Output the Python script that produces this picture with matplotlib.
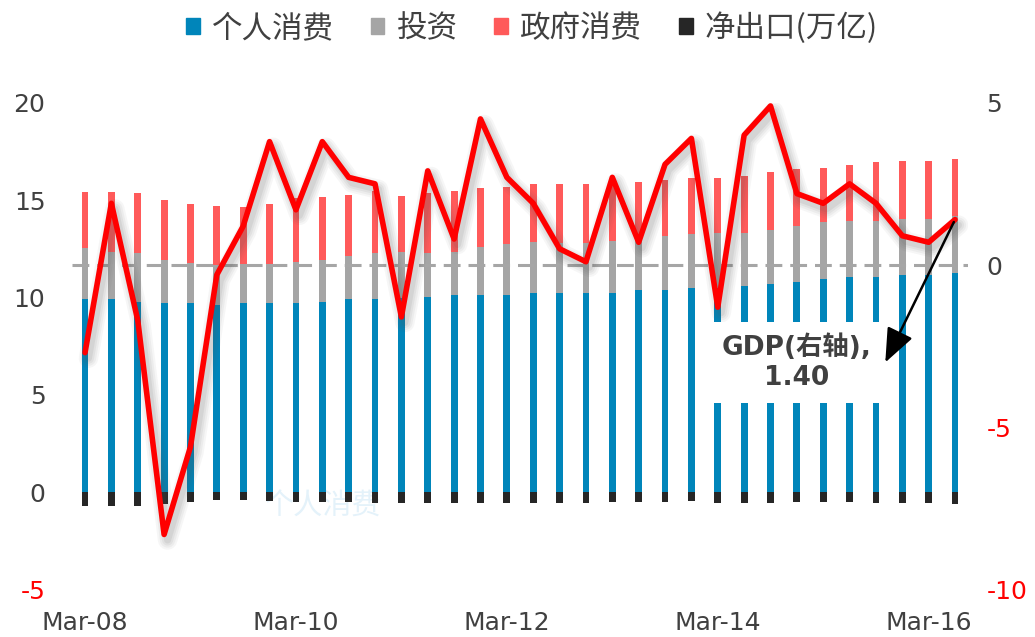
import numpy as np
import matplotlib
matplotlib.use('Agg')
import matplotlib.pyplot as plt
import matplotlib.patheffects as pe
from matplotlib.patches import Patch

plt.rcParams['font.family'] = ['DejaVu Sans', 'Noto Sans CJK SC']

# quarterly data, Mar-08 .. Jun-16 (trillion USD, GDP growth % on right axis)
quarters = [f'{m}-{y:02d}' for y in range(8, 17) for m in ['Mar', 'Jun', 'Sep', 'Dec']][:34]

personal = [9.91, 9.91, 9.78, 9.70, 9.70, 9.61, 9.70, 9.70, 9.70, 9.78,
            9.91, 9.91, 9.95, 10.04, 10.13, 10.13, 10.13, 10.25, 10.25, 10.25,
            10.25, 10.38, 10.38, 10.47, 10.50, 10.59, 10.71, 10.81, 10.93, 11.04,
            11.04, 11.15, 11.15, 11.24]
invest = [2.62, 2.44, 2.49, 2.22, 2.09, 2.06, 2.02, 2.02, 2.11, 2.14,
          2.24, 2.36, 2.37, 2.23, 2.22, 2.45, 2.62, 2.61, 2.56, 2.56,
          2.65, 2.57, 2.80, 2.79, 2.80, 2.73, 2.77, 2.88, 2.94, 2.88,
          2.90, 2.87, 2.87, 2.93]
gov = [2.90, 3.08, 3.08, 3.08, 3.01, 3.03, 2.94, 3.08, 3.28, 3.25,
       3.09, 3.20, 2.91, 3.11, 3.12, 3.02, 2.94, 2.95, 3.00, 3.00,
       2.96, 2.96, 2.84, 2.86, 2.82, 2.90, 2.96, 2.88, 2.80, 2.90,
       2.99, 3.01, 3.01, 2.94]
net_exp = [-0.70, -0.70, -0.70, -0.60, -0.50, -0.40, -0.40, -0.45, -0.50, -0.50,
           -0.50, -0.55, -0.55, -0.55, -0.55, -0.55, -0.55, -0.55, -0.55, -0.55,
           -0.50, -0.50, -0.50, -0.45, -0.55, -0.55, -0.55, -0.50, -0.50, -0.50,
           -0.55, -0.55, -0.55, -0.60]
gdp = [-2.7, 1.9, -1.7, -8.3, -5.6, -0.3, 1.2, 3.8, 1.7, 3.8,
       2.7, 2.5, -1.6, 2.9, 0.8, 4.5, 2.7, 1.9, 0.5, 0.1,
       2.7, 0.7, 3.1, 3.9, -1.3, 4.0, 4.9, 2.2, 1.9, 2.5,
       1.9, 0.9, 0.7, 1.4]

left_ticks = [-5, 0, 5, 10, 15, 20]
right_ticks = [-10, -5, 0, 5]

names = ['个人消费', '投资', '政府消费', '净出口(万亿)']
colors = ['#0085BA', '#A5A5A5', '#FF5A5A', '#262626']

x = np.arange(len(quarters))
personal = np.array(personal)
invest = np.array(invest)
gov = np.array(gov)

fig = plt.figure(figsize=(10.35, 6.37), dpi=100)
ax = fig.add_axes([0.0694, 0.0743, 0.8661, 0.7645])
ax2 = ax.twinx()

w = 0.26
ax.bar(x, personal, w, color=colors[0], zorder=2)
ax.bar(x, invest, w, bottom=personal, color=colors[1], zorder=2)
ax.bar(x, gov, w, bottom=personal + invest, color=colors[2], zorder=2)
ax.bar(x, net_exp, w, color=colors[3], zorder=2)

# faint watermark label
ax.text(9.0, -0.75, '个人消费', color='#E4F2FA', fontsize=21, ha='center', va='center',
        family=['Noto Sans CJK SC'], zorder=1)

ax.set_xlim(-0.5, len(x) - 0.5)
ax.set_ylim(-5, 20)
ax2.set_ylim(-10, 5)

zero = ax2.axhline(0, color='#A6A6A6', lw=2.2, zorder=1)
zero.set_dashes((5.5, 2.6))

shadow = [pe.SimpleLineShadow(offset=(2.5, -4), shadow_color='#555555', alpha=a, linewidth=lw,
                              joinstyle='round', capstyle='round')
          for a, lw in [(0.05, 14), (0.06, 11), (0.07, 8), (0.09, 5)]]
ax2.plot(x, gdp, color='#FF0000', lw=4, zorder=3, solid_joinstyle='round',
         solid_capstyle='round', path_effects=shadow + [pe.Normal()])

ax2.annotate(f'GDP(右轴),\n{gdp[-1]:.2f}', xy=(x[-1], gdp[-1]), xytext=(27.0, -3.0),
             ha='center', va='center', fontsize=19, fontweight='bold', color='#404040',
             family=['DejaVu Sans', 'Noto Sans CJK SC'], linespacing=1.2,
             bbox=dict(boxstyle='square,pad=0.45', fc='white', ec='none'),
             arrowprops=dict(arrowstyle='<|-,head_length=1.1,head_width=0.45', color='black',
                             lw=1.8, relpos=(1.09, 0.5), patchA=None, shrinkA=0, shrinkB=2),
             zorder=4)

ax.set_zorder(1)
ax2.set_zorder(2)
ax2.patch.set_visible(False)

ax.set_xticks(x[::8])
ax.set_xticklabels([quarters[i] for i in x[::8]])
ax.set_yticks(left_ticks)
ax.set_yticklabels([str(v) for v in left_ticks])
ax2.set_yticks(right_ticks)
ax2.set_yticklabels([str(v) for v in right_ticks])

for a in (ax, ax2):
    for s in a.spines.values():
        s.set_visible(False)
    a.tick_params(length=0, labelsize=18, colors='#404040')
ax.tick_params(axis='x', pad=15)
ax.tick_params(axis='y', pad=19)
ax2.tick_params(axis='y', pad=13)
for lab, v in zip(ax.get_yticklabels(), left_ticks):
    if v < 0:
        lab.set_color('#FF0000')
for lab, v in zip(ax2.get_yticklabels(), right_ticks):
    if v < 0:
        lab.set_color('#FF0000')

handles = [Patch(color=c, label=n) for c, n in zip(colors, names)]
leg = fig.legend(handles=handles, loc='center', bbox_to_anchor=(0.514, 0.956), ncol=4,
                 frameon=False, handlelength=0.45, handleheight=0.45,
                 handletextpad=0.4, columnspacing=1.2,
                 prop={'family': ['Noto Sans CJK SC'], 'size': 22})
for t in leg.get_texts():
    t.set_color('#404040')

fig.savefig('out.png', dpi=100)
